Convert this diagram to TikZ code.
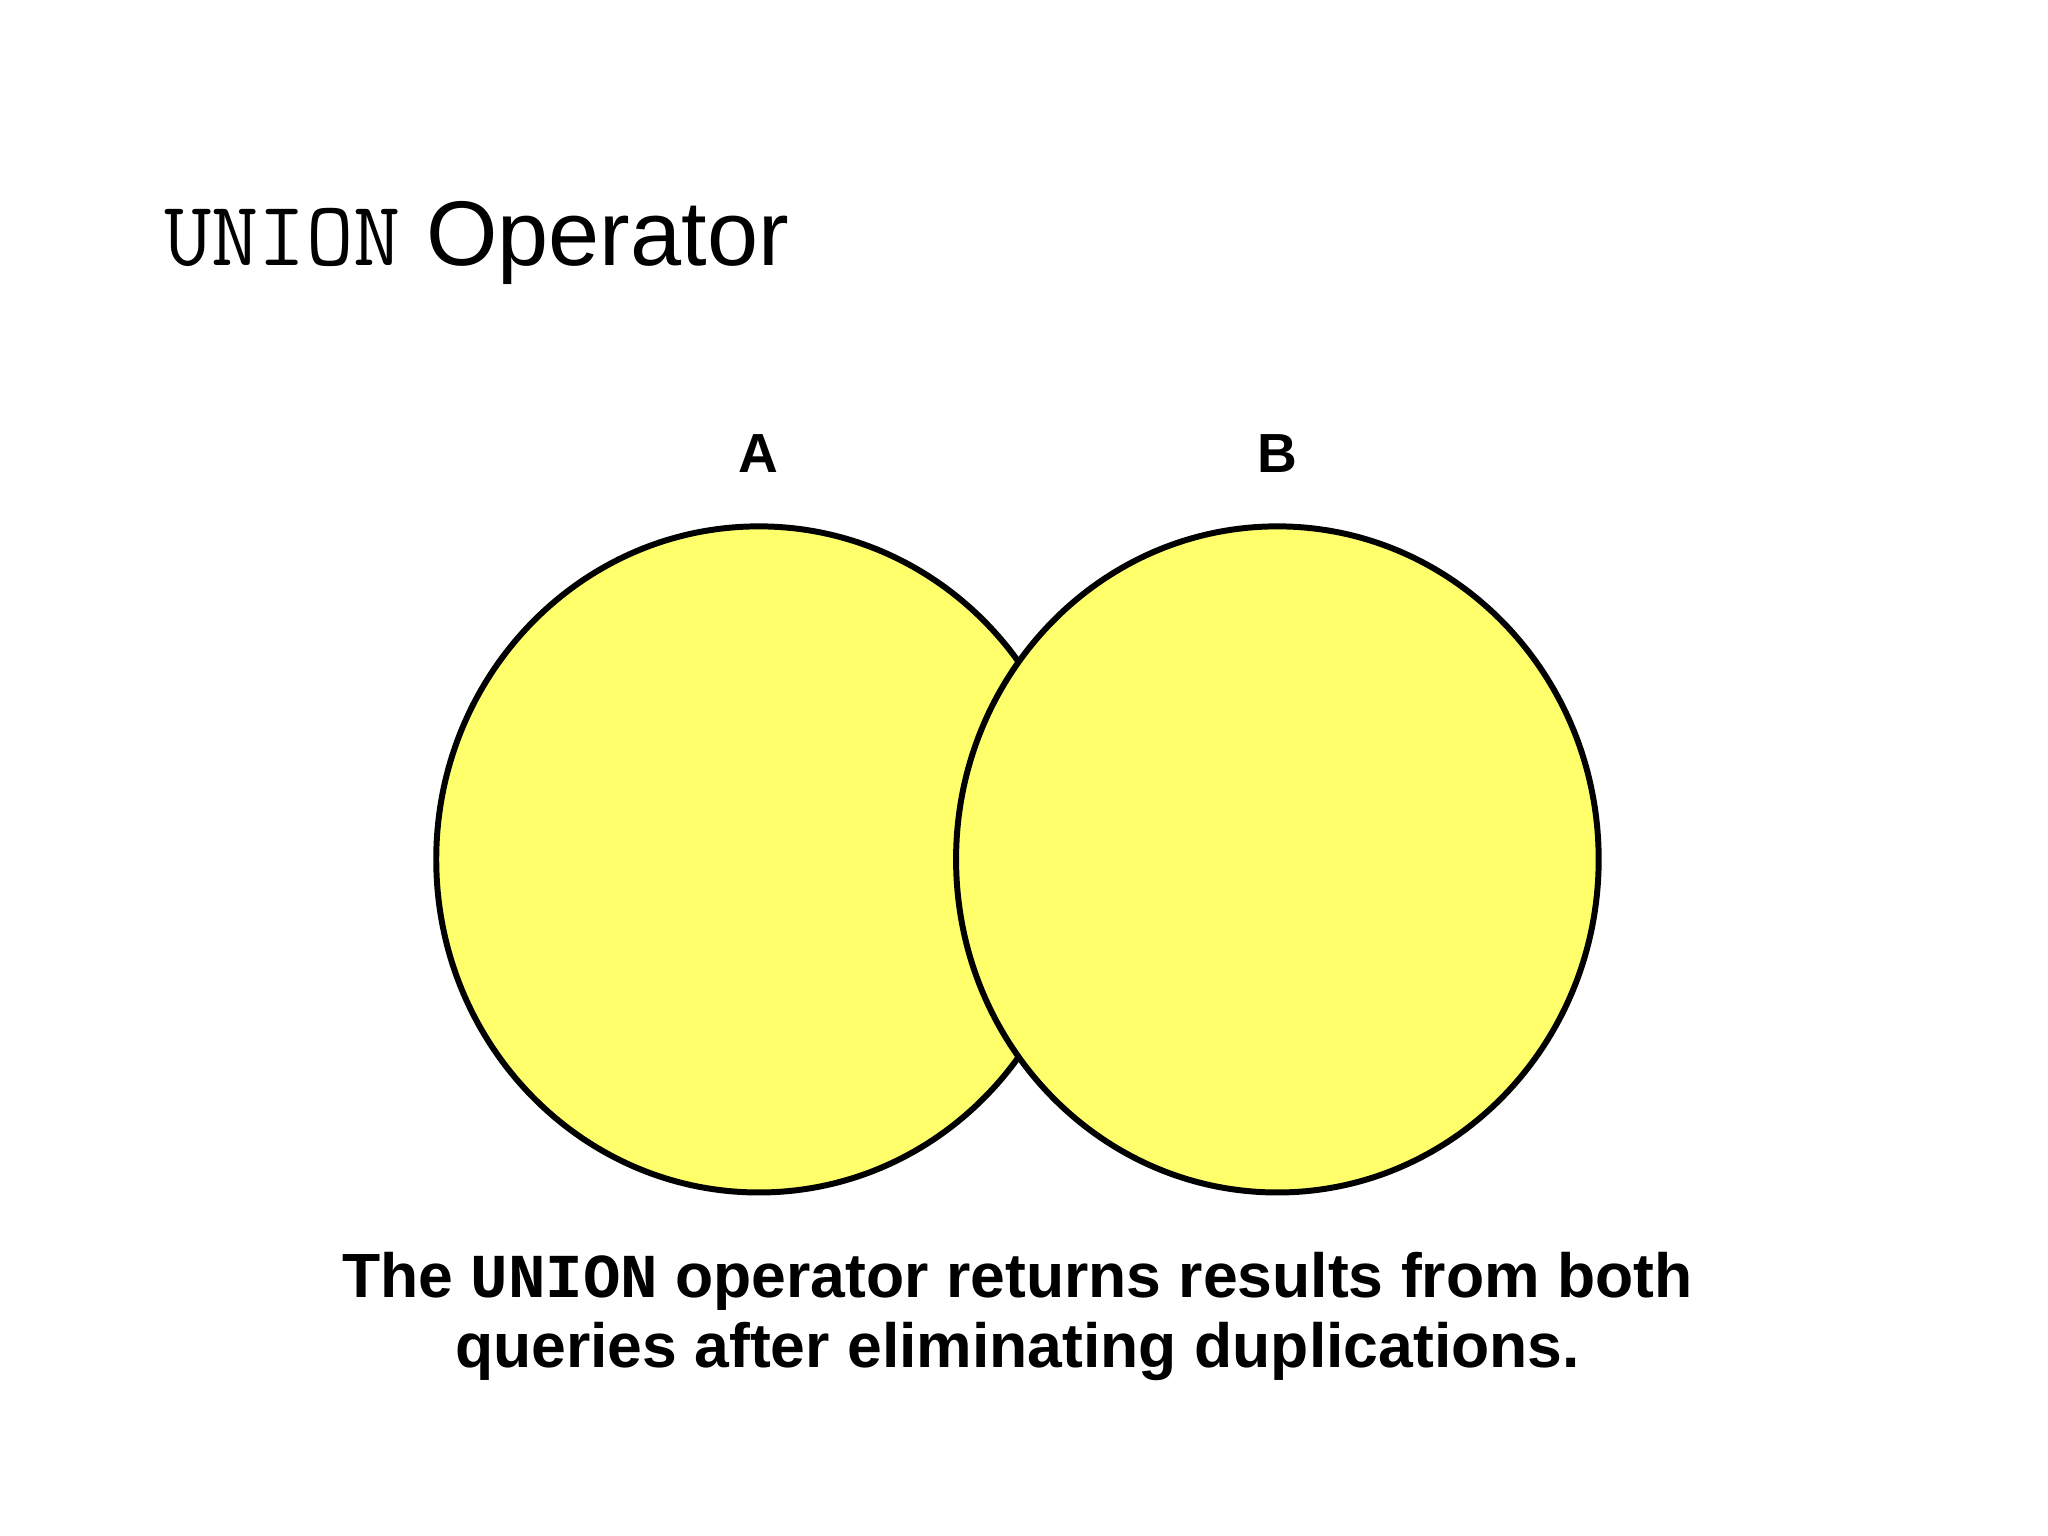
\documentclass[tikz,border=0pt]{standalone}
\usepackage{fontspec}
\setmainfont{Liberation Sans}
\newfontfamily\monof{Liberation Mono}
\newfontfamily\lmmono{Latin Modern Mono}
\definecolor{vy}{HTML}{FFFF6B}
\begin{document}
\begin{tikzpicture}[x=0.01cm,y=-0.01cm,
  setc/.style={draw=black,line width=1.3pt,fill=vy},
  lab/.style={font=\fontsize{12}{14}\selectfont\bfseries,anchor=base}]
\useasboundingbox (0,0) rectangle (1568,1176);
\node[anchor=base west,inner sep=0] (title) at (125,203) {\fontsize{20}{24}\selectfont{\lmmono UNION} Operator};
\draw[setc] (581,658) ellipse [x radius=247,y radius=255];
\draw[setc] (978,658) ellipse [x radius=246,y radius=255];
\node[lab] (a) at (581,362) {A};
\node[lab] (b) at (978,362) {B};
\node[align=center,font=\fontsize{13.6}{15.2}\selectfont\bfseries,anchor=base,inner sep=0] (cap) at (779,1047)
 {The {\monof UNION} operator returns results from both\\queries after eliminating duplications.};
\end{tikzpicture}
\end{document}
